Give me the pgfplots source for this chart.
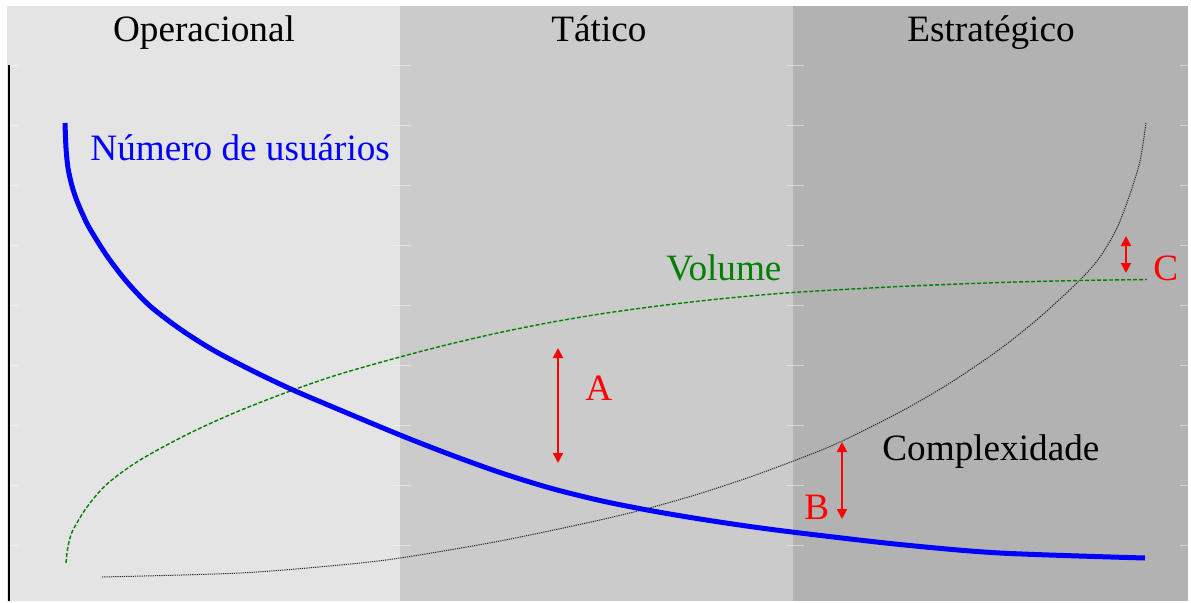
\documentclass[border=0pt]{standalone}
\usepackage{fontspec}
\setmainfont{Liberation Serif}
\usepackage{pgfplots}
\pgfplotsset{compat=1.18}
\usetikzlibrary{arrows.meta}
\definecolor{bandA}{HTML}{E4E4E4}
\definecolor{bandB}{HTML}{CBCBCB}
\definecolor{bandC}{HTML}{B2B2B2}
\definecolor{vgreen}{HTML}{008000}
\newcommand\lbl{\fontsize{18.6pt}{22pt}\selectfont}
\begin{document}
\begin{tikzpicture}
\begin{axis}[scale only axis, width=590.5pt, height=297.5pt,
  xmin=7, xmax=1188, ymin=0, ymax=595, axis lines=none, clip=false]
\path (axis cs:0,0) -- (axis cs:1191,601);
% background bands
\addplot[draw=none, fill=bandA] coordinates {(7,0) (400,0) (400,595) (7,595)} -- cycle;
\addplot[draw=none, fill=bandB] coordinates {(400,0) (793,0) (793,595) (400,595)} -- cycle;
\addplot[draw=none, fill=bandC] coordinates {(793,0) (1188,0) (1188,595) (793,595)} -- cycle;
% faint tick marks
\pgfplotsinvokeforeach{56,116,176,236,296,356,416,476,536}{
  \draw[white, opacity=0.45, line width=0.5pt] (axis cs:10,#1) -- (axis cs:18,#1);
  \draw[white, opacity=0.45, line width=0.5pt] (axis cs:393,#1) -- (axis cs:411,#1);
  \draw[white, opacity=0.45, line width=0.5pt] (axis cs:786,#1) -- (axis cs:804,#1);
  \draw[white, opacity=0.45, line width=0.5pt] (axis cs:1180,#1) -- (axis cs:1188,#1);
}
% left axis line
\draw[black, line width=1.2pt] (axis cs:9,0) -- (axis cs:9,536);
% titles
\node[anchor=base, inner sep=0pt, font=\lbl] at (axis cs:204,560) {Operacional};
\node[anchor=base, inner sep=0pt, font=\lbl] at (axis cs:599,560) {Tático};
\node[anchor=base, inner sep=0pt, font=\lbl] at (axis cs:991,560) {Estratégico};
% Complexidade (dotted)
\addplot[black!85, line width=0.5pt, dash pattern=on 0.6pt off 0.5pt, smooth] coordinates {
 (102,24) (240,28) (340,36) (400,43) (500,60) (600,81) (653,94) (700,107.5)
 (750,124) (800,142.5) (840,159) (900,189) (950,218) (1000,252) (1040,284)
 (1080,321) (1100,344) (1117,373) (1130,407) (1140,440) (1146,478)};
% Volume (dashed green)
\addplot[vgreen, line width=0.7pt, dash pattern=on 2pt off 1pt, smooth] coordinates {
 (66,38) (67,48) (69,59) (73,71) (87,94) (107,117) (140,141) (190,168) (240,190.5)
 (293,211) (340,227) (400,244) (450,257) (500,268.5) (550,278.5) (600,287)
 (650,294) (700,300) (750,305) (800,309) (900,314.5) (1000,318.5)
 (1080,320.5) (1147,321.5)};
% Numero de usuarios (blue)
\addplot[blue, line width=2.5pt, smooth] coordinates {
 (65,478) (66,453) (68,433) (72,415) (77,400) (83,386) (90,372) (107,345)
 (127,319) (150,295) (180,272) (213,251) (253,230) (293,211) (340,191)
 (400,166) (450,146.5) (500,128.5) (550,113) (600,100.5) (650,90.5)
 (700,82) (750,74.5) (800,68) (900,56.5) (1000,48) (1145,43)};
% labels
\node[anchor=base west, inner sep=0pt, font=\lbl, text=blue] at (axis cs:90,441) {Número de usuários};
\node[anchor=base west, inner sep=0pt, font=\lbl, text=vgreen] at (axis cs:666,321) {Volume};
\node[anchor=base west, inner sep=0pt, font=\lbl] at (axis cs:882,141) {Complexidade};
\node[anchor=base west, inner sep=0pt, font=\lbl, text=red] at (axis cs:585,201) {A};
\node[anchor=base west, inner sep=0pt, font=\lbl, text=red] at (axis cs:804,82) {B};
\node[anchor=base west, inner sep=0pt, font=\lbl, text=red] at (axis cs:1153,321) {C};
% arrows
\draw[red, line width=1pt, {Triangle[width=5pt,length=5pt]}-{Triangle[width=5pt,length=5pt]}] (axis cs:558,253) -- (axis cs:558,138);
\draw[red, line width=1pt, {Triangle[width=5pt,length=5pt]}-{Triangle[width=5pt,length=5pt]}] (axis cs:842,159) -- (axis cs:842,82);
\draw[red, line width=1pt, {Triangle[width=5pt,length=5pt]}-{Triangle[width=5pt,length=5pt]}] (axis cs:1126,365) -- (axis cs:1126,328);
\end{axis}
\end{tikzpicture}
\end{document}
